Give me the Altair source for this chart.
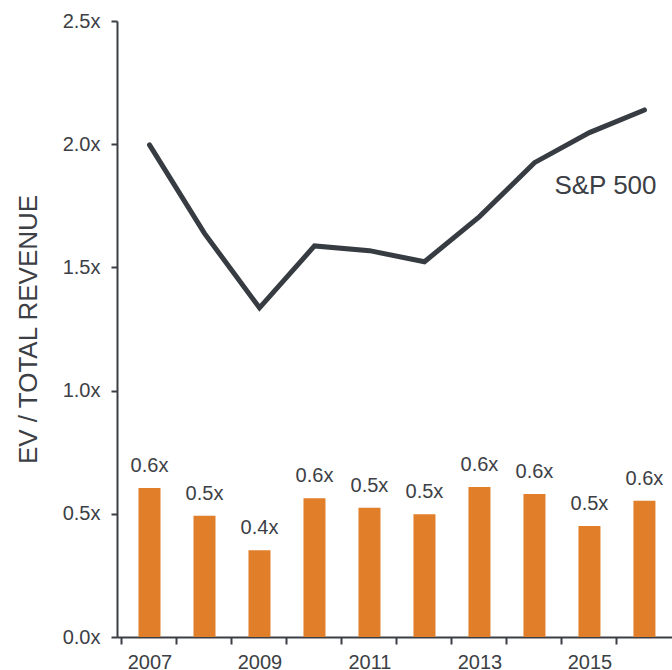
import altair as alt
import pandas as pd

years = [2007, 2008, 2009, 2010, 2011, 2012, 2013, 2014, 2015, 2016]
sector_multiple = [0.605, 0.492, 0.352, 0.563, 0.525, 0.498, 0.609, 0.580, 0.450, 0.553]
sp500_multiple = [1.997, 1.638, 1.336, 1.587, 1.568, 1.523, 1.706, 1.925, 2.047, 2.139]
y_ticks = [0.0, 0.5, 1.0, 1.5, 2.0, 2.5]
series_label = "S&P 500"
series_label_year = 2015
series_label_value = 1.83

df = pd.DataFrame({"year": years, "sector": sector_multiple, "sp500": sp500_multiple})
lab = pd.DataFrame({"year": [series_label_year], "v": [series_label_value], "t": [series_label]})

FONT = "Liberation Sans"
TXT = "#3c4045"
AX = "#3a3f45"
ORANGE = "#e07e29"
LINE = "#373c42"
YTITLE = "EV / TOTAL REVENUE"

xscale = alt.Scale(domain=[2006.5, 2016.41], nice=False, zero=False)
yscale = alt.Scale(domain=[0, 2.5], nice=False, zero=True)

xaxis = alt.Axis(
    values=years, grid=False, domain=True, domainColor=AX, domainWidth=2,
    ticks=True, tickColor=AX, tickWidth=2, tickSize=7, tickOffset=-28, labelOffset=28,
    labelExpr="datum.value % 2 == 1 ? toString(datum.value) : ''",
    labelFont=FONT, labelFontSize=20, labelColor=TXT, labelPadding=8,
    labelOverlap=False, labelFlush=False,
)
yaxis = alt.Axis(
    values=y_ticks, grid=False, domain=True, domainColor=AX,
    domainWidth=2, ticks=True, tickColor=AX, tickWidth=2, tickSize=6,
    labelExpr="format(datum.value, '.1f') + 'x'",
    labelFont=FONT, labelFontSize=20, labelColor=TXT, labelPadding=11,
    titleFont=FONT, titleFontSize=26, titleFontWeight="normal", titleColor=TXT,
    titlePadding=21,
)

base = alt.Chart(df)

bars = base.mark_bar(width=22, color=ORANGE).encode(
    x=alt.X("year:Q", scale=xscale, axis=xaxis, title=None),
    y=alt.Y("sector:Q", scale=yscale, axis=yaxis, title=YTITLE),
)

bar_labels = base.transform_calculate(
    lbl="format(datum.sector, '.1f') + 'x'"
).mark_text(font=FONT, fontSize=20, color=TXT, baseline="bottom", dy=-12).encode(
    x=alt.X("year:Q", title=None),
    y=alt.Y("sector:Q", title=YTITLE),
    text="lbl:N",
)

line = base.mark_line(color=LINE, strokeWidth=5, strokeCap="round").encode(
    x=alt.X("year:Q", title=None),
    y=alt.Y("sp500:Q", title=YTITLE),
)

series_text = alt.Chart(lab).mark_text(
    font=FONT, fontSize=26, color=TXT, align="center", baseline="middle", dx=16
).encode(
    x=alt.X("year:Q", title=None),
    y=alt.Y("v:Q", title=YTITLE),
    text="t:N",
)

chart = alt.layer(bars, bar_labels, line, series_text).properties(
    width=555, height=616,
    autosize=alt.AutoSizeParams(type="none"),
    padding={"left": 117, "top": 21, "right": 0, "bottom": 33},
    background="white",
).configure_view(stroke=None)

chart.save("out.html", embed_options={"renderer": "svg", "actions": False})
